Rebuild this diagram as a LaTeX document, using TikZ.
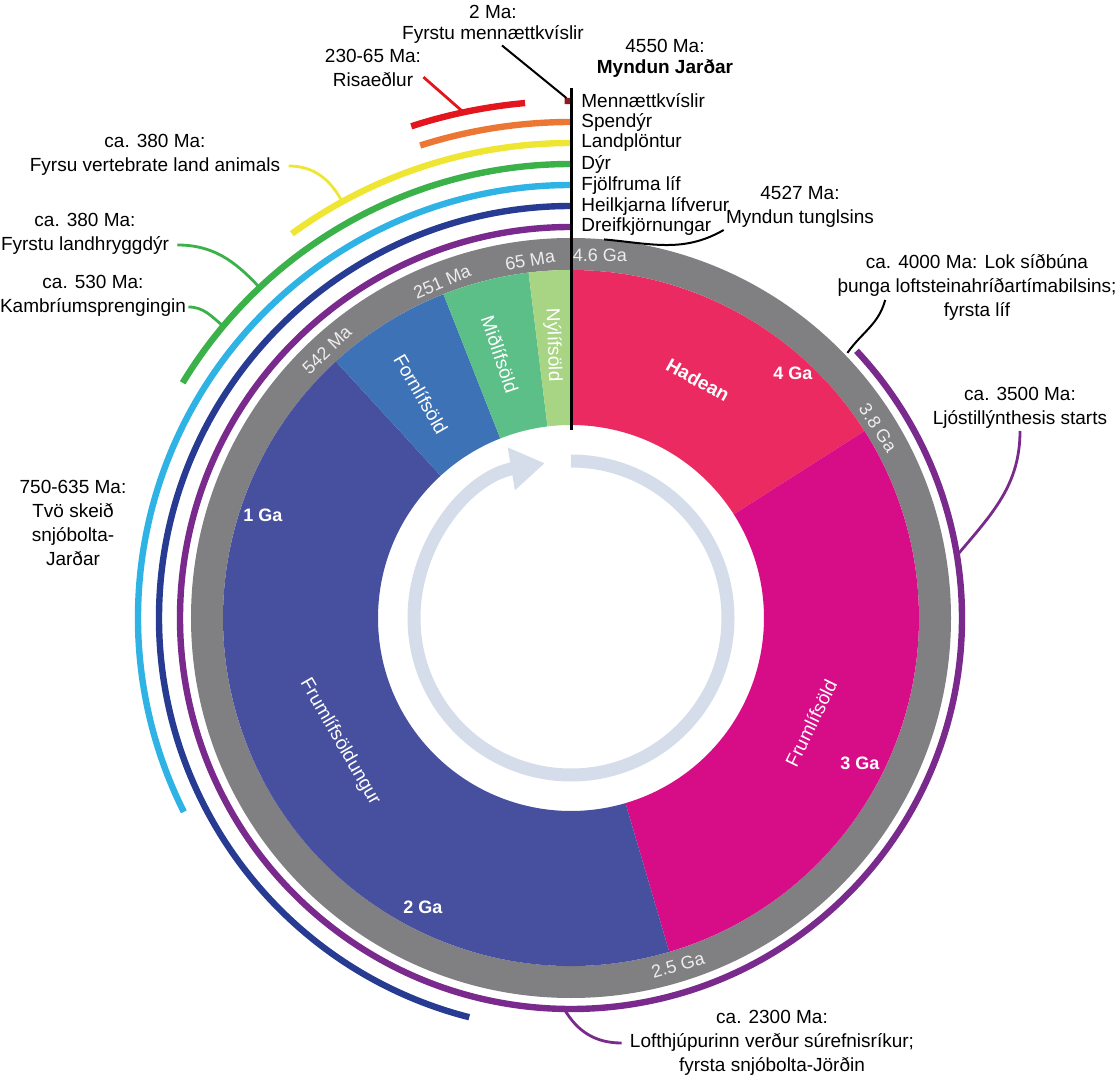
\documentclass[tikz,border=0pt]{standalone}
\usepackage{fontspec}
\setmainfont{Liberation Sans}
\usepackage{xcolor}
\usetikzlibrary{arrows.meta,calc}

\definecolor{hadeanred}{HTML}{EA2A60}
\definecolor{archeanpink}{HTML}{D70D88}
\definecolor{proterblue}{HTML}{46509F}
\definecolor{paleoblue}{HTML}{3D72B6}
\definecolor{mesogreen}{HTML}{5CBF87}
\definecolor{cenogreen}{HTML}{A8D583}
\definecolor{ringgray}{HTML}{808082}
\definecolor{arrowgray}{HTML}{D5DDEA}
\definecolor{homred}{HTML}{8E1B1E}
\definecolor{dinored}{HTML}{E3161D}
\definecolor{mammalorange}{HTML}{EC7634}
\definecolor{plantyellow}{HTML}{EFE634}
\definecolor{animalgreen}{HTML}{3BB14A}
\definecolor{multiblue}{HTML}{2EB3E4}
\definecolor{eukarynavy}{HTML}{263B91}
\definecolor{prokpurple}{HTML}{7A2A8C}

\begin{document}
\begin{tikzpicture}[
  x=0.5pt, y=0.5pt,
  every node/.style={font=\fontsize{9.5}{12}\selectfont},
  note/.style={align=center, inner sep=1pt},
  evlabel/.style={anchor=west, inner sep=0pt},
  ringlabel/.style={text=white!93!black, font=\fontsize{9}{11}\selectfont},
  eralabel/.style={text=white, font=\fontsize{9.5}{11}\selectfont},
  galabel/.style={text=white, font=\fontsize{9}{11}\selectfont\bfseries},
  event/.style={line width=3.2pt},
  leader/.style={line width=1pt},
  cleader/.style={line width=1.4pt}
]
\useasboundingbox (-571,-461) rectangle (546,618);

% Eons and eras
\fill[ringgray, even odd rule] (0,0) circle[radius=380] (0,0) circle[radius=348];
\fill[hadeanred] (32.5:193) arc[start angle=32.5, end angle=90, radius=193] -- (90:348) arc[start angle=90, end angle=32.5, radius=348] -- cycle;
\fill[archeanpink] (-73.6:193) arc[start angle=-73.6, end angle=32.5, radius=193] -- (32.5:348) arc[start angle=32.5, end angle=-73.6, radius=348] -- cycle;
\fill[proterblue] (-227.5:193) arc[start angle=-227.5, end angle=-73.6, radius=193] -- (-73.6:348) arc[start angle=-73.6, end angle=-227.5, radius=348] -- cycle;
\fill[paleoblue] (111.5:193) arc[start angle=111.5, end angle=132.5, radius=193] -- (132.5:348) arc[start angle=132.5, end angle=111.5, radius=348] -- cycle;
\fill[mesogreen] (97:193) arc[start angle=97, end angle=111.5, radius=193] -- (111.5:348) arc[start angle=111.5, end angle=97, radius=348] -- cycle;
\fill[cenogreen] (90:193) arc[start angle=90, end angle=97, radius=193] -- (97:348) arc[start angle=97, end angle=90, radius=348] -- cycle;

% Clockwise arrow
\draw[arrowgray, line width=6.5pt, -{Triangle[length=17pt,width=20.5pt]}] (90:157) arc[start angle=90, end angle=-260.4, radius=157];

% Life arcs
\draw[event, homred] (90:517) arc[start angle=90, end angle=90.7, radius=517];
\draw[event, dinored] (95.1:517) arc[start angle=95.1, end angle=108, radius=517];
\draw[event, mammalorange] (90:496) arc[start angle=90, end angle=107.7, radius=496];
\draw[event, plantyellow] (90:475) arc[start angle=90, end angle=126, radius=475];
\draw[event, animalgreen] (90:454) arc[start angle=90, end angle=148.8, radius=454];
\draw[event, multiblue] (90:433) arc[start angle=90, end angle=206.6, radius=433];
\draw[event, eukarynavy] (90:412) arc[start angle=90, end angle=255.7, radius=412];
\draw[event, prokpurple] (90:391) arc[start angle=90, end angle=403.1, radius=391];

\draw[line width=1.5pt] (0,188) -- (0,530);

% Labels on the line
\node[evlabel] (hominid) at (10,517) {Mennættkvíslir};
\node[evlabel] (mammal) at (10,496) {Spendýr};
\node[evlabel] (plant) at (10,475) {Landplöntur};
\node[evlabel] (animal) at (10,454) {Dýr};
\node[evlabel] (multi) at (10,433) {Fjölfruma líf};
\node[evlabel] (eukary) at (10,412) {Heilkjarna lífverur};
\node[evlabel] (prok) at (10,391) {Dreifkjörnungar};

% Ring labels
\node[ringlabel] (ga46) at (29,363) {4.6 Ga};
\node[ringlabel, rotate=9] (ma65) at (-41,358) {65 Ma};
\node[ringlabel, rotate=23] (ma251) at (-129,336) {251 Ma};
\node[ringlabel, rotate=44] (ma542) at (-244,268) {542 Ma};
\node[ringlabel, rotate=-57] (ga38) at (307,190) {3.8 Ga};
\node[ringlabel, rotate=16] (ga25) at (107,-347) {2.5 Ga};

% Era labels
\node[eralabel, font=\fontsize{9.5}{11}\selectfont\bfseries, rotate=-29] (hadean) at (127,238) {Hadean};
\node[galabel] (ga4) at (222,245) {4 Ga};
\node[eralabel, rotate=64] (archean) at (240,-105) {Frumlífsöld};
\node[galabel] (ga3) at (289,-145) {3 Ga};
\node[eralabel, rotate=-60] (proter) at (-231,-124) {Frumlífsöldungur};
\node[galabel] (ga1) at (-308,103) {1 Ga};
\node[galabel] (ga2) at (-148,-289) {2 Ga};
\node[eralabel, rotate=-60] (paleo) at (-150,224) {Fornlífsöld};
\node[eralabel, rotate=-71.5] (meso) at (-71,264) {Miðlífsöld};
\node[eralabel, rotate=-88] (ceno) at (-18,273) {Nýlífsöld};

% Annotations
\node[note, font=\fontsize{9.5}{10.5}\selectfont] (hom) at (-78,594) {2 Ma:\\Fyrstu mennættkvíslir};
\node[note, font=\fontsize{9.5}{10.5}\selectfont] (earth) at (94,560) {4550 Ma:\\\textbf{Myndun Jarðar}};
\node[note] (dino) at (-198,550) {230-65 Ma:\\Risaeðlur};
\node[note] (vert) at (-416,463) {ca. 380 Ma:\\Fyrsu vertebrate land animals};
\node[note] (landv) at (-486,384) {ca. 380 Ma:\\Fyrstu landhryggdýr};
\node[note] (camb) at (-478,322) {ca. 530 Ma:\\Kambríumsprengingin};
\node[note] (snow) at (-498,95) {750-635 Ma:\\Tvö skeið\\snjóbolta-\\Jarðar};
\node[note] (moon) at (229,411) {4527 Ma:\\Myndun tunglsins};
\node[note] (bomb) at (406,331) {ca. 4000 Ma: Lok síðbúna\\þunga loftsteinahríðartímabilsins;\\fyrsta líf};
\node[note] (photo) at (449,210) {ca. 3500 Ma:\\Ljóstillýnthesis starts};
\node[note] (oxy) at (201,-425) {ca. 2300 Ma:\\Lofthjúpurinn verður súrefnisríkur;\\fyrsta snjóbolta-Jörðin};

% Leader ends
\coordinate (homtip) at (90.5:520);
\coordinate (dinotip) at (102:517);
\coordinate (vertip) at (118.8:477);
\coordinate (landtip) at (133.3:456);
\coordinate (cambtip) at (140:455);
\coordinate (moontip) at (85:380);
\coordinate (bombtip) at (43.8:383);
\coordinate (phototip) at (9.2:391);
\coordinate (oxytip) at (-91:391);

% Leaders
\draw[leader] ($(hom.south)+(9,0)$) -- (homtip);
\draw[cleader, dinored] ($(dino.south east)+(0,12)$) -- (dinotip);
\draw[cleader, plantyellow] ($(vert.south east)+(6,12)$) to[out=0, in=118.8] (vertip);
\draw[cleader, animalgreen] ($(landv.south east)+(6,12)$) to[out=0, in=133.3] (landtip);
\draw[cleader, animalgreen] ($(camb.south east)+(0,12)$) to[out=0, in=140] (cambtip);
\draw[leader] (moontip) to[out=-5, in=-150] (moon.south west);
\draw[leader] (bombtip) to[out=55, in=-105] ($(bomb.west)+(50,-13)$);
\draw[cleader, prokpurple] (photo.south) to[out=-90, in=50] (phototip);
\draw[cleader, prokpurple] (oxytip) to[out=-60, in=180] ($(oxy.west)+(-6,0)$);

\end{tikzpicture}
\end{document}
